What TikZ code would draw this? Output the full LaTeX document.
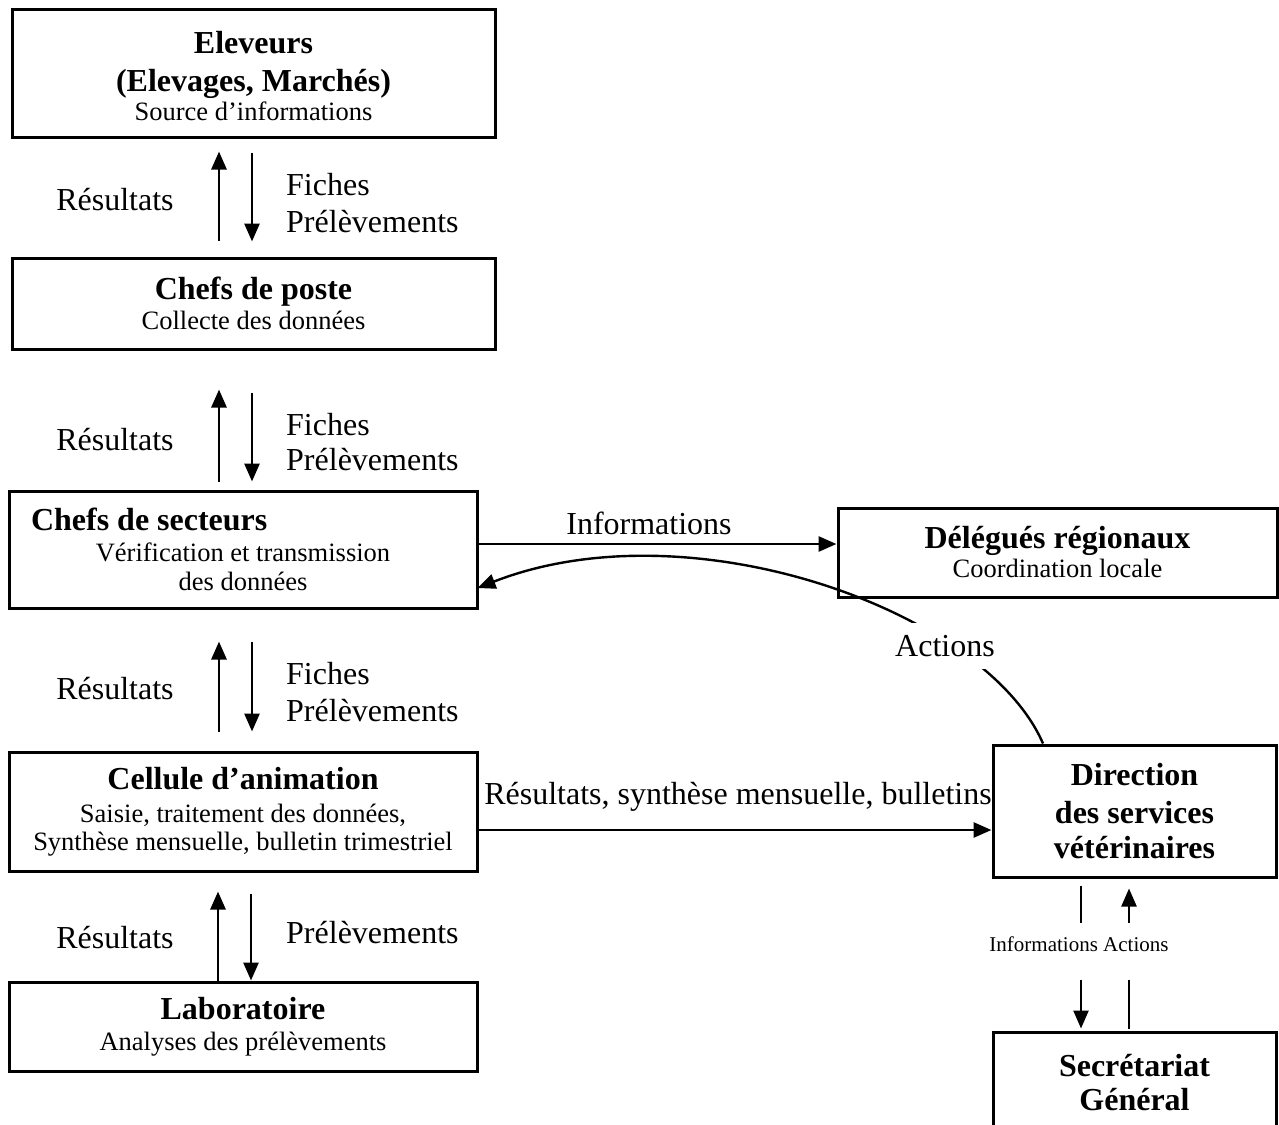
\documentclass[tikz,border=0pt]{standalone}
\usepackage{fontspec}
\setmainfont{Liberation Serif}
\usetikzlibrary{arrows.meta}
\newcommand\sublabel[1]{{\fontsize{26.5}{30}\selectfont\mdseries #1}}
\tikzset{
  box/.style={draw, line width=3pt, align=center, inner sep=0pt,
    font=\fontsize{32}{38}\selectfont\bfseries},
  lbl/.style={inner sep=0pt, font=\fontsize{32}{38}\selectfont},
  smalllbl/.style={inner sep=0pt, font=\fontsize{21}{24}\selectfont},
  tip/.style={-{Triangle[length=18pt,width=15pt]}},
  arr/.style={line width=2.8pt, tip},
  thinarr/.style={line width=2.4pt, tip},
  plainline/.style={line width=2.4pt}
}
\begin{document}
\begin{tikzpicture}[x=1pt,y=1pt]
\useasboundingbox (0,0) rectangle (1279,-1124);
\clip (0,0) rectangle (1279,-1124);

% boxes
\node[box, minimum width=483pt, minimum height=127pt] (elev) at (253.5,-73.5)
  {\rule{0pt}{27pt}Eleveurs\\(Elevages, Marchés)\\[-9pt]\sublabel{Source d’informations}};
\node[box, minimum width=483pt, minimum height=91pt] (poste) at (253.5,-303.5)
  {Chefs de poste\\[-8pt]\sublabel{Collecte des données}};
\node[box, minimum width=468pt, minimum height=117pt] (sect) at (243,-549.5)
  {\makebox[424pt][l]{Chefs de secteurs}\\[-7pt]\sublabel{Vérification et transmission}\\[-9pt]\sublabel{des données}};
\node[box, minimum width=439pt, minimum height=89pt] (deleg) at (1057.5,-552.5)
  {Délégués régionaux\\[-9pt]\sublabel{Coordination locale}};
\node[box, minimum width=468pt, minimum height=119pt] (cell) at (243,-811.5)
  {Cellule d’animation\\[-5pt]\sublabel{Saisie, traitement des données,}\\[-10pt]\sublabel{Synthèse mensuelle, bulletin trimestriel}};
\node[box, minimum width=283pt, minimum height=132pt] (dir) at (1134.5,-811)
  {Direction\\des services\\[-3pt]vétérinaires};
\node[box, minimum width=468pt, minimum height=89pt] (labo) at (243,-1026.5)
  {Laboratoire\\[-7pt]\sublabel{Analyses des prélèvements}};
\node[box, minimum width=283pt, minimum height=102pt] (secr) at (1134.5,-1083)
  {Secrétariat\\[-4pt]Général};

% pair 1: elev <-> poste
\draw[arr] ([shift={(-34.5,16)}]poste.north) -- ([shift={(-34.5,-13)}]elev.south);
\draw[arr] ([shift={(-1.5,-14)}]elev.south) -- ([shift={(-1.5,15)}]poste.north);
\node[lbl] (r1) at (115,-200) {Résultats};
\node[lbl, anchor=west] (f1) at (286,-185) {Fiches};
\node[lbl, anchor=west] (p1) at (286,-222) {Prélèvements};

% pair 2: poste <-> sect
\draw[arr] ([shift={(-24,8)}]sect.north) -- ([shift={(-34.5,-39)}]poste.south);
\draw[arr] ([shift={(-1.5,-42)}]poste.south) -- ([shift={(9,8)}]sect.north);
\node[lbl] (r2) at (115,-440) {Résultats};
\node[lbl, anchor=west] (f2) at (286,-425) {Fiches};
\node[lbl, anchor=west] (p2) at (286,-460) {Prélèvements};

% pair 3: sect <-> cell
\draw[arr] ([shift={(-24,19)}]cell.north) -- ([shift={(-24,-32)}]sect.south);
\draw[arr] ([shift={(9,-32)}]sect.south) -- ([shift={(9,19)}]cell.north);
\node[lbl] (r3) at (115,-689) {Résultats};
\node[lbl, anchor=west] (f3) at (286,-674) {Fiches};
\node[lbl, anchor=west] (p3) at (286,-711) {Prélèvements};

% pair 4: cell <-> labo
\draw[arr] ([xshift=-25pt]labo.north) -- ([shift={(-25,-19)}]cell.south);
\draw[arr] ([shift={(8,-21)}]cell.south) -- ([xshift=8pt]labo.north);
\node[lbl] (r4) at (115,-938) {Résultats};
\node[lbl, anchor=west] (p4) at (286,-933) {Prélèvements};

% sect -> deleg
\draw[arr] ([yshift=5.5pt]sect.east) -- ([yshift=5.5pt]sect.east -| deleg.west);
\node[lbl] (inf) at (649,-523) {Informations};

% dir -> sect (Actions)
\draw[plainline, tip]
  ([xshift=-91.5pt]dir.north) .. controls (985,-610) and (690,-505) .. ([shift={(-1,-38.5)}]sect.east);
\node[lbl, fill=white, inner xsep=2pt, inner ysep=12pt] (act) at (945,-646) {Actions};

% cell -> dir
\draw[arr] ([yshift=-18.5pt]cell.east) -- ([yshift=-18.5pt]cell.east -| dir.west);
\node[lbl] (res) at (738,-797) {Résultats, synthèse mensuelle, bulletins};

% dir <-> secr
\draw[plainline] ([shift={(-53.5,-7)}]dir.south) -- ([shift={(-53.5,-44)}]dir.south);
\draw[thinarr] ([shift={(-53.5,51)}]secr.north) -- ([shift={(-53.5,2)}]secr.north);
\draw[thinarr] ([shift={(-5.5,-44)}]dir.south) -- ([shift={(-5.5,-10)}]dir.south);
\draw[plainline] ([shift={(-5.5,51)}]secr.north) -- ([shift={(-5.5,2)}]secr.north);
\node[smalllbl] (ia) at (1079,-944) {Informations Actions};
\end{tikzpicture}
\end{document}
